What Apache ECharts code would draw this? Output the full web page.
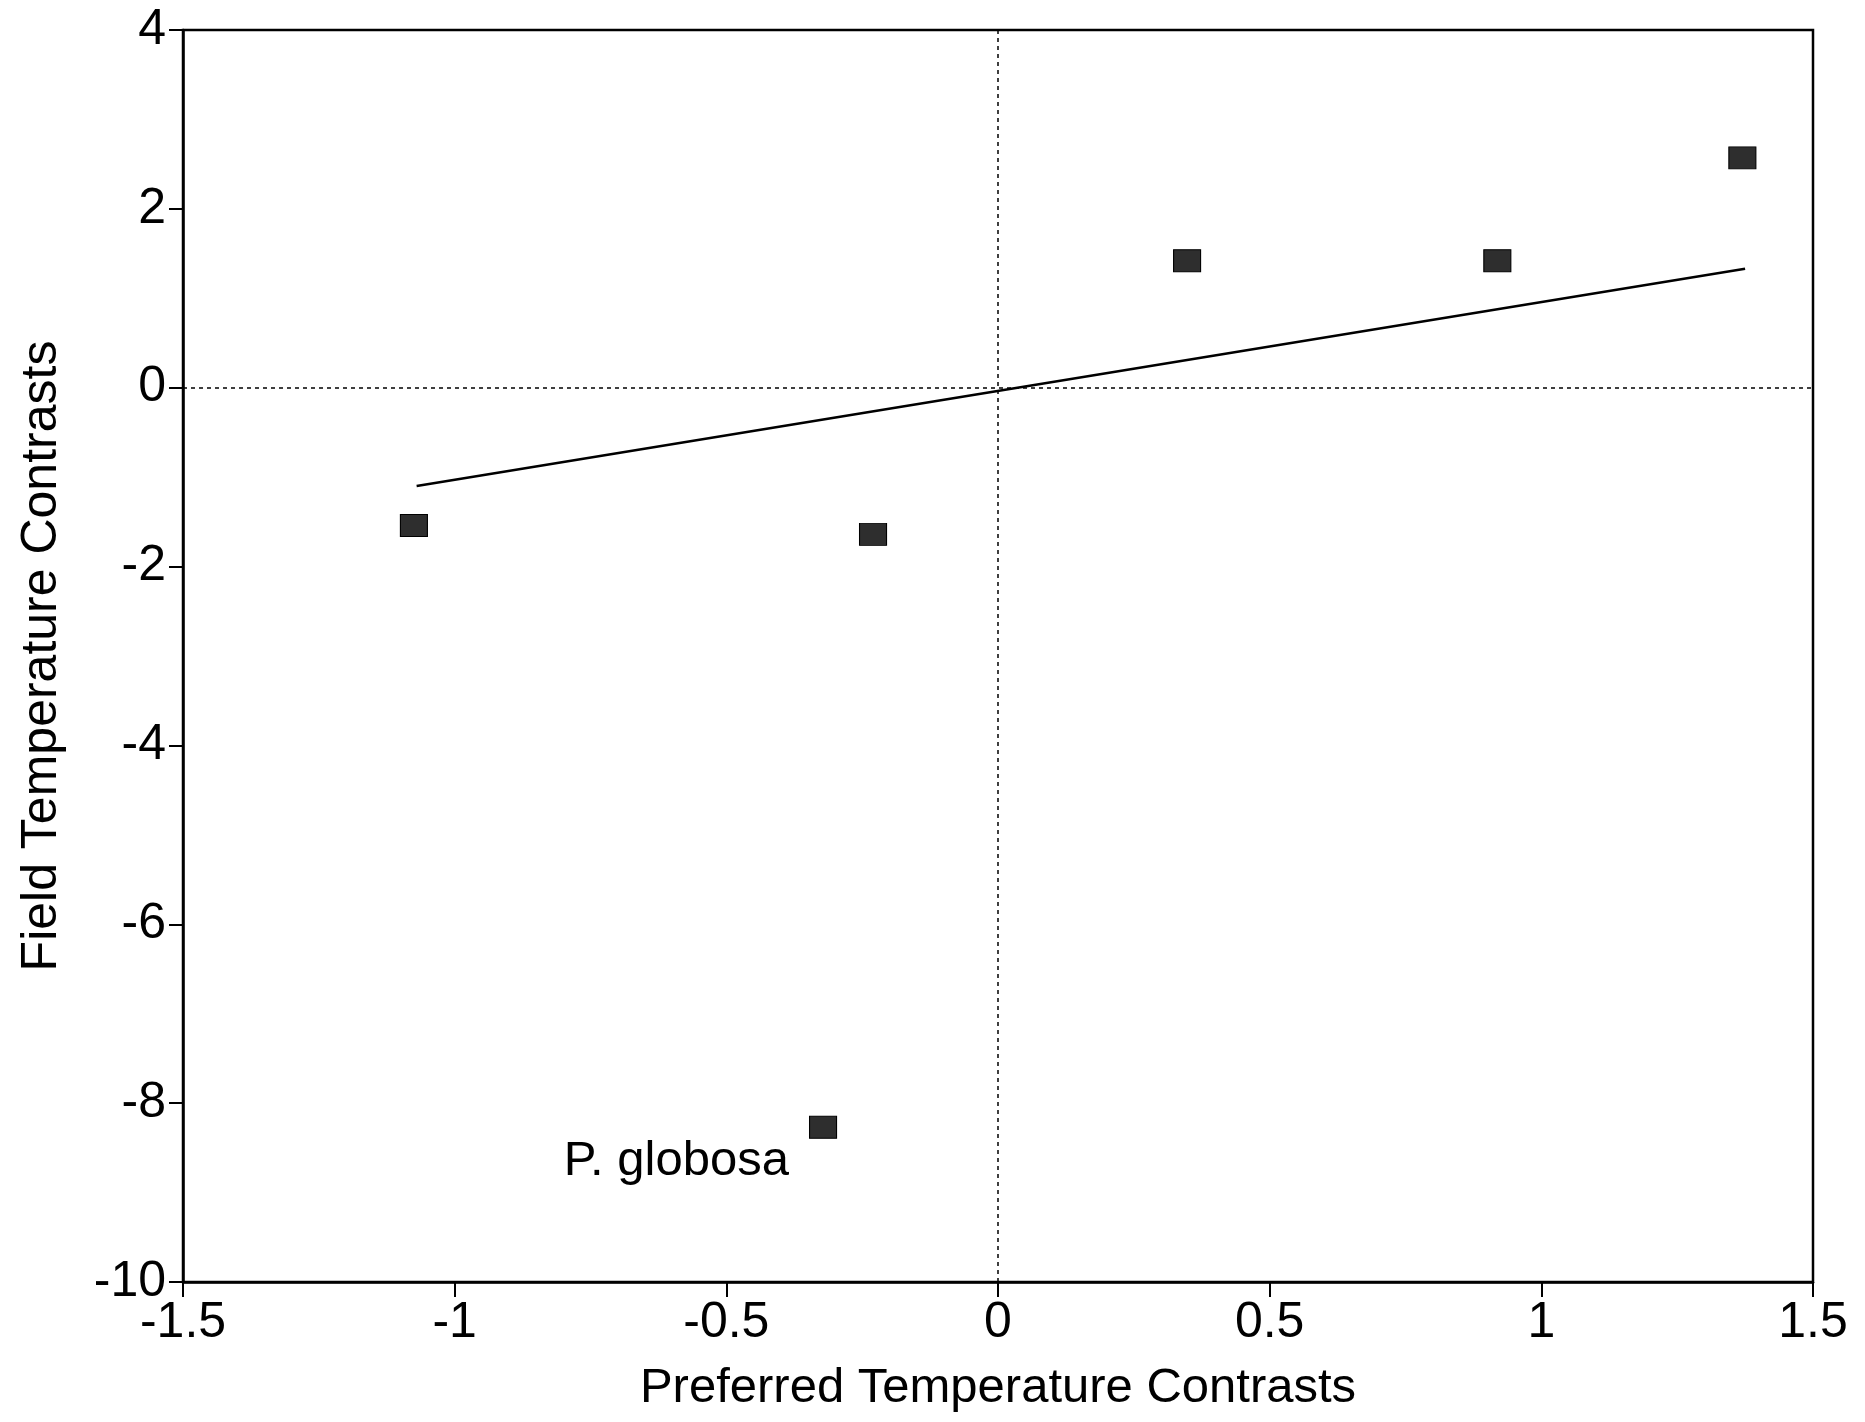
<!DOCTYPE html>
<html>
<head>
<meta charset="utf-8">
<script src="https://cdn.jsdelivr.net/npm/echarts@6/dist/echarts.min.js"></script>
<style>html,body{margin:0;padding:0;background:#fff;}#c{width:1865px;height:1422px;}</style>
</head>
<body>
<div id="c"></div>
<script>
// Data
const preferredContrasts = [-1.075, -0.23, 0.348, 0.919, 1.37, -0.322];
const fieldContrasts     = [-1.54, -1.64, 1.42, 1.42, 2.57, -8.27];
const pointLabels        = ['', '', '', '', '', 'P. globosa'];
const fitX = [-1.07, 1.375];
const fitY = [-1.1, 1.33];
const xTicks = [-1.5, -1, -0.5, 0, 0.5, 1, 1.5];
const yTicks = [-10, -8, -6, -4, -2, 0, 2, 4];

const font = '"Liberation Sans", Arial, Helvetica, sans-serif';
const pts = preferredContrasts.map((x, i) => ({
  value: [x, fieldContrasts[i]],
  label: pointLabels[i] ? {
    show: true, formatter: pointLabels[i], position: 'left', distance: 20,
    offset: [0, 34], color: '#000', fontSize: 49, fontFamily: font
  } : { show: false }
}));

const chart = echarts.init(document.getElementById('c'), null, { renderer: 'canvas' });
chart.setOption({
  backgroundColor: '#fff',
  animation: false,
  grid: { left: 183, right: 52, top: 30, bottom: 140, show: true, borderColor: '#000', borderWidth: 2.5 },
  xAxis: {
    type: 'value', min: -1.5, max: 1.5, interval: 0.5,
    name: 'Preferred Temperature Contrasts', nameLocation: 'middle', nameGap: 82,
    nameTextStyle: { fontSize: 49, fontFamily: font, color: '#000' },
    axisLine: { show: true, onZero: false, lineStyle: { color: '#000', width: 2.5 } },
    axisTick: { show: true, inside: false, length: 15, lineStyle: { color: '#000', width: 2 } },
    axisLabel: { fontSize: 50, fontFamily: font, color: '#000', margin: 16,
      formatter: v => String(xTicks.find(t => Math.abs(t - v) < 1e-9) ?? v) },
    splitLine: { show: false }
  },
  yAxis: {
    type: 'value', min: -10, max: 4, interval: 2,
    name: 'Field Temperature Contrasts', nameLocation: 'middle', nameGap: 116, nameRotate: 90,
    nameTextStyle: { fontSize: 50, fontFamily: font, color: '#000' },
    axisLine: { show: true, onZero: false, lineStyle: { color: '#000', width: 2.5 } },
    axisTick: { show: true, inside: false, length: 14, lineStyle: { color: '#000', width: 2 } },
    axisLabel: { fontSize: 50, fontFamily: font, color: '#000', margin: 17,
      formatter: v => String(yTicks.find(t => Math.abs(t - v) < 1e-9) ?? v) },
    splitLine: { show: false }
  },
  series: [
    {
      type: 'line', data: fitX.map((x, i) => [x, fitY[i]]), symbol: 'none',
      lineStyle: { color: '#000', width: 2.5 }, z: 3,
      markLine: {
        silent: true, symbol: 'none', label: { show: false },
        lineStyle: { color: '#000', width: 1.5, type: [4, 4] },
        data: [{ xAxis: 0 }, { yAxis: 0 }]
      }
    },
    {
      type: 'scatter', data: pts, symbol: 'rect', symbolSize: [27, 22],
      label: { color: '#000', fontFamily: font },
      itemStyle: { color: '#2e2e2e', borderColor: '#000', borderWidth: 1, opacity: 1 }, z: 4
    }
  ]
});
</script>
</body>
</html>
